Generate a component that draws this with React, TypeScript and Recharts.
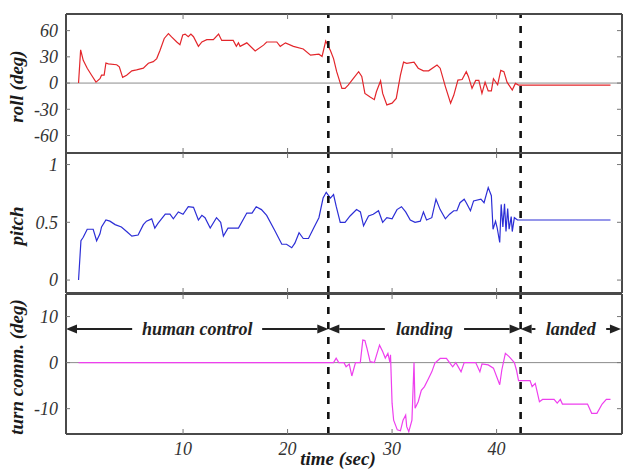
import { Line, LineChart, ReferenceLine, XAxis, YAxis } from "recharts";

// time (sec) shared by all three panels
const TIME_DOMAIN: [number, number] = [-1.2, 52];
const TIME_TICKS = [10, 20, 30, 40];
const PHASE_EDGES = [23.9, 42.3];

const ROLL_TICKS = [-60, -30, 0, 30, 60];
const PITCH_TICKS = [0, 0.5, 1];
const TURN_TICKS = [-10, 0, 10];

const PHASE_NAMES = ["human control", "landing", "landed"];
const PHASE_FROM = [-1.2, 23.9, 42.3];
const PHASE_TO = [23.9, 42.3, 51.9];
const PHASE_LEVEL = 7.3; // turn comm. value the arrows sit at

// [time, roll deg]
const ROLL: [number, number][] = [
  [0, 0], [0.2, 38], [0.45, 26], [0.83, 17], [1.25, 9], [1.67, 1], [2.05, 5], [2.2, 9], [2.45, 9],
  [2.62, 23], [2.85, 22], [3.65, 21], [3.9, 18.6], [4.22, 6.5], [4.6, 9], [5.1, 14], [5.55, 15],
  [6.2, 17], [6.68, 22.6], [7.15, 24.5], [7.48, 28], [7.8, 37.6], [8.2, 51], [8.6, 56.6], [8.9, 52.8],
  [9.4, 47], [9.7, 44], [9.97, 55], [10.2, 56], [10.5, 53], [10.75, 56], [11, 53], [11.47, 42],
  [11.8, 47], [12.27, 49.7], [12.9, 49.7], [13.4, 56], [13.7, 48.8], [14.8, 48.8], [15.1, 42],
  [15.3, 46], [15.46, 42], [16.1, 46], [16.9, 36.8], [17.7, 43.4], [18, 47], [18.97, 47], [19.3, 42],
  [19.8, 46], [20.56, 42], [21.5, 39], [22.2, 32], [23, 33], [23.3, 30.5], [23.65, 48], [24.1, 37.3],
  [24.4, 28], [24.7, 13], [25.2, -6], [25.5, -6], [25.8, -2.3], [26.3, 5.3], [26.8, 13], [27.1, 7.6],
  [27.4, -11.8], [27.9, -16], [28.3, -19], [28.5, -10], [28.9, 2.7], [29.1, -11.8], [29.5, -25],
  [30, -23], [30.4, -17.5], [30.8, 9], [31.1, 24], [31.4, 22.5], [32.1, 24], [32.5, 17], [33, 14],
  [33.5, 14], [34.3, 20.6], [34.6, 17], [35.1, -4], [35.6, -23], [35.9, -14], [36.3, 3.4], [36.7, 4],
  [37.1, 13], [37.3, 7.6], [37.65, -6], [38, 3], [38.3, 3], [38.6, -11.8], [38.9, 1], [39.2, -9],
  [39.5, -9], [39.7, 5], [40.1, -2], [40.4, 14.5], [40.7, 13], [41, 1], [41.5, -8], [41.8, -0.4],
  [42.1, -2.3], [50.9, -2.3],
];

// [time, pitch]
const PITCH: [number, number][] = [
  [0, 0], [0.23, 0.34], [0.45, 0.37], [0.83, 0.44], [1.4, 0.44], [1.73, 0.34], [2.05, 0.4], [2.2, 0.46],
  [2.62, 0.52], [3, 0.51], [3.5, 0.48], [4.1, 0.46], [4.6, 0.42], [5.1, 0.38], [5.7, 0.39], [6.2, 0.48],
  [6.5, 0.51], [7, 0.53], [7.3, 0.45], [7.6, 0.49], [8.3, 0.57], [8.75, 0.57], [9.07, 0.53], [9.55, 0.59],
  [10, 0.57], [10.5, 0.635], [11, 0.63], [11.47, 0.52], [11.8, 0.56], [12.1, 0.54], [12.6, 0.45],
  [13.2, 0.54], [13.6, 0.5], [13.86, 0.38], [14.3, 0.45], [15.3, 0.45], [16.1, 0.58], [16.6, 0.58],
  [17, 0.635], [17.5, 0.61], [18, 0.56], [18.8, 0.425], [19.45, 0.31], [19.9, 0.31], [20.4, 0.28],
  [20.7, 0.32], [21.1, 0.41], [21.5, 0.36], [22, 0.36], [22.5, 0.45], [23, 0.54], [23.4, 0.71],
  [23.7, 0.76], [24.1, 0.71], [24.4, 0.74], [24.65, 0.64], [25.04, 0.5], [25.5, 0.5], [25.98, 0.555],
  [26.6, 0.61], [26.97, 0.59], [27.27, 0.47], [27.75, 0.555], [28.2, 0.57], [28.7, 0.6], [29.1, 0.5],
  [29.5, 0.54], [30, 0.53], [30.47, 0.61], [30.9, 0.635], [31.3, 0.59], [31.74, 0.52], [32.2, 0.5],
  [32.7, 0.51], [33, 0.59], [33.3, 0.52], [33.8, 0.54], [34.2, 0.7], [34.6, 0.61], [35.1, 0.53],
  [35.5, 0.57], [35.9, 0.6], [36.2, 0.6], [36.5, 0.67], [36.9, 0.7], [37.1, 0.67], [37.5, 0.6],
  [37.8, 0.685], [38.5, 0.7], [38.8, 0.67], [39.2, 0.8], [39.5, 0.73], [39.66, 0.44], [39.9, 0.51],
  [40.05, 0.455], [40.3, 0.325], [40.44, 0.655], [40.6, 0.46], [40.76, 0.66], [40.9, 0.42],
  [41.06, 0.62], [41.2, 0.44], [41.4, 0.55], [41.5, 0.42], [41.7, 0.54], [42, 0.52], [50.9, 0.52],
];

// [time, turn command deg]
const TURN: [number, number][] = [
  [0, 0], [24.4, 0], [24.65, 0.95], [24.9, 0], [25.4, 0], [25.6, -0.9], [25.9, -0.3], [26.15, -2.9],
  [26.5, 0], [26.96, 0], [27.2, 4.9], [27.4, 4.8], [27.6, 3.1], [27.9, 0.2], [28.3, 0], [28.8, 3.8],
  [29.1, 2.4], [29.35, 1], [29.6, 2], [29.8, 0], [29.85, 1.7], [30, -8.8], [30.15, -12.5], [30.5, -14.6],
  [30.8, -14.8], [31.05, -12.5], [31.3, -11.4], [31.4, -13.9], [31.6, -15], [31.9, -12.5], [32.1, 0],
  [32.2, -9.9], [32.5, -8.5], [32.8, -6], [33.1, -5.2], [33.5, -3.4], [33.8, -2], [34.1, -0.1],
  [34.6, 0.9], [35.2, 0.9], [35.5, 0], [35.8, -0.9], [36.1, 0], [36.6, -2], [36.9, 0], [38, 0],
  [38.4, -2], [38.6, -0.3], [39.2, -0.5], [39.7, -1.2], [40.3, -4.8], [40.5, -1.6], [40.84, 2],
  [41.2, 1.3], [41.7, 0], [41.9, -1.6], [42.1, -3.9], [43.2, -3.9], [43.4, -5.2], [43.7, -4.5],
  [44.1, -8.5], [44.4, -8], [45.5, -8], [45.8, -8.8], [46.1, -8], [46.3, -9], [48.7, -9], [49.1, -11],
  [49.6, -11], [50.1, -9], [50.5, -8], [50.9, -8],
];

const W = 623;
const PAD = 2;
const SERIF = "'Liberation Serif', 'Times New Roman', serif";
const FRAME = { stroke: "#4a4a4a", strokeWidth: 2 };
const TICK_LINE = { stroke: "#777", strokeWidth: 1 };
const TICK_TEXT = { fontFamily: SERIF, fontStyle: "italic", fontSize: 18, fill: "#333" };
const TITLE = { fontFamily: SERIF, fontStyle: "italic", fontWeight: "bold", fontSize: 19, fill: "#1a1a1a" };

// axes whose tick marks are drawn but not their numbers
const NoLabel = () => <g />;

function PhaseArrow(props: any) {
  const { x1, x2, y1, name } = props;
  const left = Math.min(x1, x2);
  const right = Math.max(x1, x2);
  const mid = (left + right) / 2;
  const gap = (name.length * 0.47 * 18) / 2 + 10;
  const head = 11;
  const hw = 4.5;
  return (
    <g>
      <line x1={left + head} y1={y1} x2={mid - gap} y2={y1} stroke="#222" strokeWidth={2} />
      <line x1={mid + gap} y1={y1} x2={right - head} y2={y1} stroke="#222" strokeWidth={2} />
      <polygon points={`${left},${y1} ${left + head},${y1 - hw} ${left + head},${y1 + hw}`} fill="#222" />
      <polygon points={`${right},${y1} ${right - head},${y1 - hw} ${right - head},${y1 + hw}`} fill="#222" />
      <text x={mid} y={y1 + 6} textAnchor="middle" {...TITLE} fontSize={18} fill="#222">
        {name}
      </text>
    </g>
  );
}

type PanelProps = {
  plotTop: number;
  plotHeight: number;
  points: [number, number][];
  domain: [number, number];
  ticks: number[];
  color: string;
  title: string;
  zeroLine?: boolean;
  timeAxis?: boolean;
  phases?: boolean;
};

function Panel({ plotTop, plotHeight, points, domain, ticks, color, title, zeroLine, timeAxis, phases }: PanelProps) {
  const data = points.map(([t, v]) => ({ t, v }));
  const axisH = timeAxis ? 35 : 1;
  const chartTop = plotTop - PAD;
  const midY = PAD + 1 + plotHeight / 2 + 3;
  return (
    <div style={{ position: "absolute", left: 0, top: chartTop }}>
      <LineChart
        width={W}
        height={PAD + 1 + plotHeight + axisH + (timeAxis ? 0 : PAD)}
        data={data}
        margin={{ top: PAD, right: 0, bottom: timeAxis ? 0 : PAD, left: 0 }}
      >
        <XAxis
          xAxisId="b"
          dataKey="t"
          type="number"
          domain={TIME_DOMAIN}
          allowDataOverflow
          ticks={TIME_TICKS}
          height={axisH}
          tickSize={-5}
          tickMargin={13}
          tick={timeAxis ? TICK_TEXT : NoLabel}
          axisLine={FRAME}
          tickLine={TICK_LINE}
          label={
            timeAxis
              ? () => (
                  <text x={338} y={465 - chartTop} textAnchor="middle" {...TITLE}>
                    time (sec)
                  </text>
                )
              : undefined
          }
        />
        <XAxis
          xAxisId="t"
          orientation="top"
          dataKey="t"
          type="number"
          domain={TIME_DOMAIN}
          allowDataOverflow
          ticks={TIME_TICKS}
          height={1}
          tickSize={-5}
          tick={NoLabel}
          axisLine={FRAME}
          tickLine={TICK_LINE}
        />
        <YAxis
          yAxisId="l"
          width={66}
          domain={domain}
          allowDataOverflow
          ticks={ticks}
          tickSize={-4}
          tickMargin={12}
          tick={TICK_TEXT}
          axisLine={FRAME}
          tickLine={TICK_LINE}
          label={() => (
            <text x={23} y={midY} transform={`rotate(-90 23 ${midY})`} textAnchor="middle" {...TITLE}>
              {title}
            </text>
          )}
        />
        <YAxis
          yAxisId="r"
          orientation="right"
          width={1}
          domain={domain}
          allowDataOverflow
          ticks={ticks}
          tickSize={-5}
          tick={NoLabel}
          axisLine={FRAME}
          tickLine={TICK_LINE}
        />
        {zeroLine && <ReferenceLine xAxisId="b" yAxisId="l" y={0} stroke="#8c8c8c" strokeWidth={1} />}
        <Line
          xAxisId="b"
          yAxisId="l"
          type="linear"
          dataKey="v"
          stroke={color}
          strokeWidth={1.2}
          dot={false}
          isAnimationActive={false}
        />
        {PHASE_EDGES.map((x) => (
          <ReferenceLine
            key={x}
            xAxisId="b"
            yAxisId="l"
            x={x}
            stroke="#111"
            strokeWidth={2.6}
            strokeDasharray="7 8"
          />
        ))}
        {phases &&
          PHASE_NAMES.map((name, i) => (
            <ReferenceLine
              key={name}
              xAxisId="b"
              yAxisId="l"
              ifOverflow="visible"
              segment={[
                { x: PHASE_FROM[i], y: PHASE_LEVEL },
                { x: PHASE_TO[i], y: PHASE_LEVEL },
              ]}
              shape={(p: any) => <PhaseArrow {...p} name={name} />}
            />
          ))}
      </LineChart>
    </div>
  );
}

export default function App() {
  return (
    <div style={{ position: "absolute", left: 0, top: 0, width: W, height: 469, background: "#fff" }}>
      <Panel plotTop={13} plotHeight={139} points={ROLL} domain={[-80, 79]} ticks={ROLL_TICKS} color="#e3262b" title="roll (deg)" zeroLine />
      <Panel plotTop={152} plotHeight={140} points={PITCH} domain={[-0.112, 1.1]} ticks={PITCH_TICKS} color="#2c2ed6" title="pitch" />
      <Panel plotTop={293} plotHeight={140} points={TURN} domain={[-15.5, 14.9]} ticks={TURN_TICKS} color="#ee3fee" title="turn comm. (deg)" zeroLine timeAxis phases />
    </div>
  );
}
